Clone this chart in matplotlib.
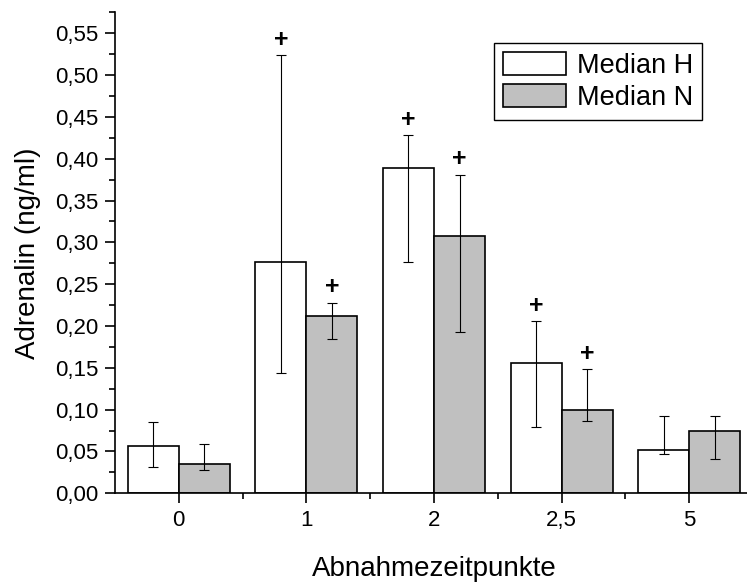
import numpy as np
import matplotlib
matplotlib.use('Agg')
import matplotlib.pyplot as plt
from matplotlib.ticker import MultipleLocator, FuncFormatter

plt.rcParams['font.family'] = ['Liberation Sans', 'DejaVu Sans']

# Adrenalin medians per sampling time, with lower/upper whisker ends
zeitpunkte = ['0', '1', '2', '2,5', '5']

median_H = [0.057, 0.277, 0.389, 0.156, 0.052]
lower_H = [0.032, 0.144, 0.276, 0.079, 0.047]
upper_H = [0.085, 0.524, 0.428, 0.206, 0.092]

median_N = [0.035, 0.212, 0.307, 0.099, 0.074]
lower_N = [0.028, 0.184, 0.193, 0.086, 0.041]
upper_N = [0.059, 0.228, 0.381, 0.148, 0.092]

# "+" marks above the bars (significant)
sig_H = [False, True, True, True, False]
sig_N = [False, True, True, True, False]

ind = np.arange(len(zeitpunkte))
width = 0.4

fig = plt.figure(figsize=(7.47, 5.83), dpi=100)
ax = fig.add_axes([115/747, 89.7/583, 638/747, 481/583])

err_H = [np.array(median_H) - np.array(lower_H), np.array(upper_H) - np.array(median_H)]
err_N = [np.array(median_N) - np.array(lower_N), np.array(upper_N) - np.array(median_N)]

ekw = dict(elinewidth=0.8, capthick=0.8, ecolor='black')
barsH = ax.bar(ind - width/2, median_H, width, color='white', edgecolor='black',
               linewidth=1.2, yerr=err_H, capsize=3.6, error_kw=ekw, label='Median H', zorder=2)
barsN = ax.bar(ind + width/2, median_N, width, color='#c0c0c0', edgecolor='black',
               linewidth=1.2, yerr=err_N, capsize=3.6, error_kw=ekw, label='Median N', zorder=2)

def plusmarks(xpos, tops, flags):
    for x, t, f in zip(xpos, tops, flags):
        if f:
            ax.annotate('+', (x, t), xytext=(0, 11), textcoords='offset points',
                        ha='center', va='center', fontsize=18, fontweight='bold')

plusmarks(ind - width/2, upper_H, sig_H)
plusmarks(ind + width/2, upper_N, sig_N)

ax.set_xlim(-0.5, 4.5)
ax.set_ylim(0, 0.575)
ax.set_xticks(ind)
ax.set_xticklabels(zeitpunkte)
ax.set_xticks(ind + 0.5, minor=True)
ax.yaxis.set_major_locator(MultipleLocator(0.05))
ax.yaxis.set_minor_locator(MultipleLocator(0.025))
ax.yaxis.set_major_formatter(FuncFormatter(lambda v, p: ('%.2f' % v).replace('.', ',')))

for s in ['top', 'right']:
    ax.spines[s].set_visible(False)
for s in ['left', 'bottom']:
    ax.spines[s].set_linewidth(1.2)

ax.tick_params(which='major', direction='out', length=7, width=1.2, labelsize=16, pad=5)
ax.tick_params(which='minor', direction='out', length=4, width=1.2)

ax.set_xlabel('Abnahmezeitpunkte', fontsize=20, labelpad=18)
ax.set_ylabel('Adrenalin (ng/ml)', fontsize=20, labelpad=10)

leg = ax.legend(loc='upper left', bbox_to_anchor=(494/747, 1 - 42.7/583),
                bbox_transform=fig.transFigure, borderaxespad=0, fontsize=19.5,
                fancybox=False, edgecolor='black', framealpha=1,
                handlelength=2.3, handleheight=0.9, handletextpad=0.4,
                labelspacing=0.2, borderpad=0.35)
leg.get_frame().set_linewidth(1.0)

fig.savefig('out.png', dpi=100)
